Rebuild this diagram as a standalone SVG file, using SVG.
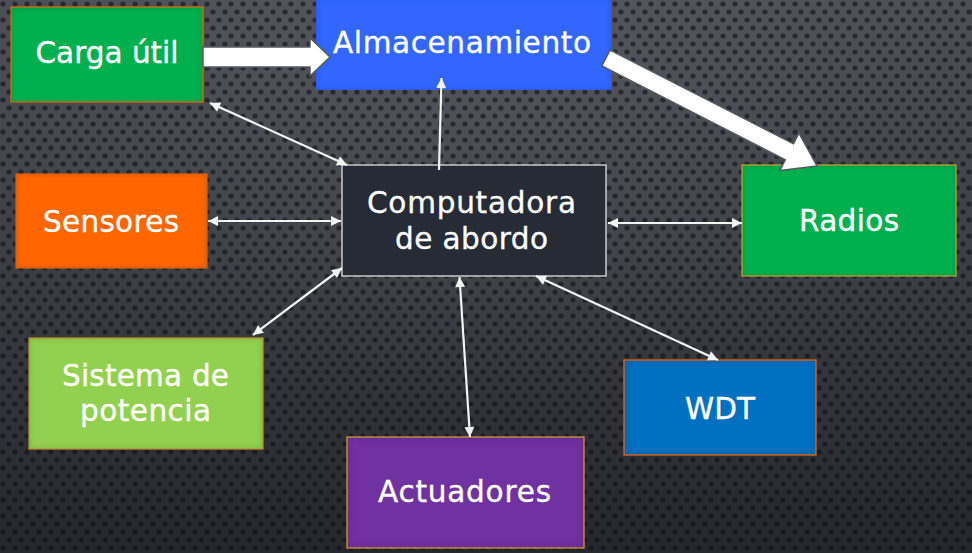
<svg xmlns="http://www.w3.org/2000/svg" width="972" height="553" viewBox="0 0 972 553">
<defs>
  <linearGradient id="bg" x1="0" y1="0" x2="0" y2="1">
    <stop offset="0" stop-color="#4b4e55"/>
    <stop offset="0.45" stop-color="#3c3f45"/>
    <stop offset="1" stop-color="#25272c"/>
  </linearGradient>
  <radialGradient id="glow" cx="0.5" cy="0.15" r="0.6">
    <stop offset="0" stop-color="#ffffff" stop-opacity="0.06"/>
    <stop offset="1" stop-color="#ffffff" stop-opacity="0"/>
  </radialGradient>
  <pattern id="dots" x="0" y="0" width="12" height="16" patternUnits="userSpaceOnUse">
    <circle cx="3" cy="4" r="2.6" fill="#0e0f12" fill-opacity="0.6"/>
    <circle cx="9" cy="12" r="2.6" fill="#0e0f12" fill-opacity="0.6"/>
  </pattern>
  <filter id="inner" x="-5%" y="-5%" width="110%" height="110%">
    <feComponentTransfer in="SourceAlpha" result="inv">
      <feFuncA type="table" tableValues="1 0"/>
    </feComponentTransfer>
    <feGaussianBlur in="inv" stdDeviation="3" result="blur"/>
    <feFlood flood-color="#000" flood-opacity="0.35"/>
    <feComposite operator="in" in2="blur"/>
    <feComposite operator="in" in2="SourceAlpha" result="shadow"/>
    <feMerge><feMergeNode in="SourceGraphic"/><feMergeNode in="shadow"/></feMerge>
  </filter>
  <marker id="ah" viewBox="0 0 10 10" refX="10" refY="5" markerWidth="11" markerHeight="10" markerUnits="userSpaceOnUse" orient="auto-start-reverse">
    <path d="M0,0 L10,5 L0,10 z" fill="#f4f4f4"/>
  </marker>
  <style>
    .lbl { font-family: "DejaVu Sans", "Liberation Sans", sans-serif; font-size: 29.5px; fill: #ffffff; stroke: #ffffff; stroke-width: 0.35; text-anchor: middle; }
    .edge { stroke: #f4f4f4; stroke-width: 2.2; fill: none; }
    .big { fill: #ffffff; stroke: #555a60; stroke-width: 1.5; stroke-linejoin: miter; }
    .frame { fill: none; stroke-width: 1.2; }
  </style>
</defs>

<rect width="972" height="553" fill="url(#bg)"/>
<rect width="972" height="553" fill="url(#glow)"/>
<rect width="972" height="553" fill="url(#dots)"/>

<g id="node-carga">
  <rect x="11" y="7" width="192" height="95" fill="#00b050" filter="url(#inner)"/>
  <rect x="11" y="7" width="192" height="95" class="frame" stroke="#e46c0a"/>
  <text class="lbl" x="107" y="63" textLength="143">Carga útil</text>
</g>

<g id="node-almacenamiento">
  <rect x="316" y="-2" width="296" height="92" fill="#3366ff" filter="url(#inner)"/>
  <text class="lbl" x="462" y="53" textLength="258">Almacenamiento</text>
</g>

<g id="node-sensores">
  <rect x="16" y="174" width="191" height="94" fill="#ff6600" filter="url(#inner)"/>
  <rect x="16" y="174" width="191" height="94" class="frame" stroke="#d9620a"/>
  <text class="lbl" x="111" y="232" textLength="136">Sensores</text>
</g>

<g id="node-computadora">
  <rect x="342" y="165" width="264" height="111" fill="#262b35" stroke="#f0f0f0" stroke-width="1.2"/>
  <text class="lbl" x="471.5" y="213" textLength="209">Computadora</text>
  <text class="lbl" x="471.5" y="249" textLength="153">de abordo</text>
</g>

<g id="node-radios">
  <rect x="742" y="165" width="214" height="111" fill="#00b050" filter="url(#inner)"/>
  <rect x="742" y="165" width="214" height="111" class="frame" stroke="#c8a82a"/>
  <text class="lbl" x="849" y="231" textLength="100">Radios</text>
</g>

<g id="node-sistema">
  <rect x="29" y="338" width="234" height="111" fill="#92d050" filter="url(#inner)"/>
  <rect x="29" y="338" width="234" height="111" class="frame" stroke="#c09030"/>
  <text class="lbl" x="145.5" y="386" textLength="167">Sistema de</text>
  <text class="lbl" x="145.5" y="421" textLength="131">potencia</text>
</g>

<g id="node-wdt">
  <rect x="624" y="360" width="192" height="95" fill="#0070c0" filter="url(#inner)"/>
  <rect x="624" y="360" width="192" height="95" class="frame" stroke="#ff6600"/>
  <text class="lbl" x="720" y="419" textLength="70">WDT</text>
</g>

<g id="node-actuadores">
  <rect x="347" y="437" width="237" height="111" fill="#7030a0" filter="url(#inner)"/>
  <rect x="347" y="437" width="237" height="111" class="frame" stroke="#e0a030"/>
  <text class="lbl" x="464.5" y="502" textLength="173">Actuadores</text>
</g>

<g id="connectors">
  <polygon class="big" points="203,47 310,47 310,38 330,57 310,76 310,67 203,67"/>
  <polygon class="big" transform="translate(606,58) rotate(27.1)" points="0,-9 206,-9 206,-21 237,0 206,21 206,9 0,9"/>
  <line class="edge" x1="210" y1="103" x2="347" y2="165" marker-start="url(#ah)" marker-end="url(#ah)"/>
  <line class="edge" x1="439" y1="170" x2="441.5" y2="78" marker-end="url(#ah)"/>
  <line class="edge" x1="208" y1="221" x2="341" y2="221" marker-start="url(#ah)" marker-end="url(#ah)"/>
  <line class="edge" x1="253" y1="335" x2="342" y2="268" marker-start="url(#ah)" marker-end="url(#ah)"/>
  <line class="edge" x1="608" y1="223" x2="742" y2="223" marker-start="url(#ah)" marker-end="url(#ah)"/>
  <line class="edge" x1="459.5" y1="277" x2="470" y2="437" marker-start="url(#ah)" marker-end="url(#ah)"/>
  <line class="edge" x1="536" y1="276" x2="718" y2="360" marker-start="url(#ah)" marker-end="url(#ah)"/>
</g>
</svg>
